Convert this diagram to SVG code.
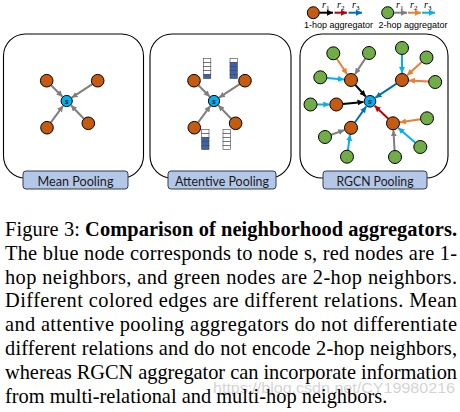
<svg xmlns="http://www.w3.org/2000/svg" width="460" height="412" viewBox="0 0 460 412">
<style>
.panel{fill:none;stroke:#000;stroke-width:1.1}
.lbl{fill:#b4c7e7;stroke:#2f3b52;stroke-width:1}
.lt{font-family:Lato,"Open Sans",sans-serif;font-size:14px;fill:#1a1a1a;text-anchor:middle}
.on{fill:#c55a11;stroke:#000;stroke-width:1}
.gn{fill:#70ad47;stroke:#000;stroke-width:1}
.sn{fill:#00b0f0;stroke:#000;stroke-width:1}
.st{font-family:"Liberation Sans",sans-serif;font-size:7px;font-style:italic;font-weight:bold;fill:#1a1a1a;text-anchor:middle}
.e{fill:none;stroke-width:2}
.gray{stroke:#7f7f7f}.blk{stroke:#000}.red{stroke:#c00000}.dbl{stroke:#0070c0}.cy{stroke:#00b0f0}.org{stroke:#ed7d31}
.cell{stroke:#404040;stroke-width:0.6}
.w{fill:#fff}.b{fill:#3b64ad}
.cap{font-family:"Liberation Serif","Times New Roman",serif;font-size:20.4px;fill:#000}
.leg{font-family:"Liberation Sans",Arial,sans-serif;font-size:9px;fill:#000}
.r{font-family:"Liberation Serif",serif;font-size:10px;font-style:italic;fill:#000}
</style>
<defs>
<marker id="m-gray" viewBox="0 0 6 6" refX="6" refY="3" markerWidth="3" markerHeight="3" orient="auto"><path d="M0,0L6,3L0,6z" fill="#7f7f7f"/></marker>
<marker id="m-blk" viewBox="0 0 6 6" refX="6" refY="3" markerWidth="3" markerHeight="3" orient="auto"><path d="M0,0L6,3L0,6z" fill="#000"/></marker>
<marker id="m-red" viewBox="0 0 6 6" refX="6" refY="3" markerWidth="3" markerHeight="3" orient="auto"><path d="M0,0L6,3L0,6z" fill="#c00000"/></marker>
<marker id="m-dbl" viewBox="0 0 6 6" refX="6" refY="3" markerWidth="3" markerHeight="3" orient="auto"><path d="M0,0L6,3L0,6z" fill="#0070c0"/></marker>
<marker id="m-cy" viewBox="0 0 6 6" refX="6" refY="3" markerWidth="3" markerHeight="3" orient="auto"><path d="M0,0L6,3L0,6z" fill="#00b0f0"/></marker>
<marker id="m-org" viewBox="0 0 6 6" refX="6" refY="3" markerWidth="3" markerHeight="3" orient="auto"><path d="M0,0L6,3L0,6z" fill="#ed7d31"/></marker>
</defs>
<rect width="460" height="412" fill="#fff"/>

<!-- legend -->
<g id="legend">
<circle class="on" cx="313.3" cy="12.7" r="6"/>
<line class="e blk" x1="319.5" y1="12.7" x2="333" y2="12.7" marker-end="url(#m-blk)"/>
<line class="e red" x1="334.5" y1="12.7" x2="347" y2="12.7" marker-end="url(#m-red)"/>
<line class="e dbl" x1="348.5" y1="12.7" x2="362" y2="12.7" marker-end="url(#m-dbl)"/>
<text class="r" x="322" y="8">r<tspan font-size="7" font-style="normal" dy="2">1</tspan></text>
<text class="r" x="337" y="8">r<tspan font-size="7" font-style="normal" dy="2">2</tspan></text>
<text class="r" x="352" y="8">r<tspan font-size="7" font-style="normal" dy="2">3</tspan></text>
<text class="leg" x="304" y="28">1-hop aggregator</text>
<circle class="gn" cx="387.7" cy="12.7" r="6"/>
<line class="e gray" x1="394" y1="12.7" x2="407" y2="12.7" marker-end="url(#m-gray)"/>
<line class="e org" x1="408" y1="12.7" x2="421" y2="12.7" marker-end="url(#m-org)"/>
<line class="e cy" x1="422" y1="12.7" x2="435" y2="12.7" marker-end="url(#m-cy)"/>
<text class="r" x="396" y="8">r<tspan font-size="7" font-style="normal" dy="2">1</tspan></text>
<text class="r" x="410" y="8">r<tspan font-size="7" font-style="normal" dy="2">2</tspan></text>
<text class="r" x="424" y="8">r<tspan font-size="7" font-style="normal" dy="2">3</tspan></text>
<text class="leg" x="378.5" y="28">2-hop aggregator</text>
</g>

<!-- panel frames -->
<g id="panel-mean">
<rect class="panel" x="3.5" y="34" width="140" height="144" rx="22"/>
<rect class="lbl" x="23" y="171" width="105" height="18" rx="3"/>
<text class="lt" x="75.5" y="186" textLength="76" lengthAdjust="spacingAndGlyphs">Mean Pooling</text>
</g>
<g id="panel-attentive">
<rect class="panel" x="150" y="34" width="141" height="144" rx="22"/>
<rect class="lbl" x="168" y="171" width="108" height="18" rx="3"/>
<text class="lt" x="222" y="186" textLength="94" lengthAdjust="spacingAndGlyphs">Attentive Pooling</text>
</g>
<g id="panel-rgcn">
<rect class="panel" x="300" y="34" width="148" height="144" rx="22"/>
<rect class="lbl" x="323" y="171" width="104" height="18" rx="3"/>
<text class="lt" x="375" y="186" textLength="77" lengthAdjust="spacingAndGlyphs">RGCN Pooling</text>
</g>

<!-- connectors -->
<g id="connectors">
<line class="e gray" x1="51.1" y1="85.2" x2="62.5" y2="96.7" marker-end="url(#m-gray)"/>
<line class="e gray" x1="92.4" y1="84.2" x2="71.7" y2="97.7" marker-end="url(#m-gray)"/>
<line class="e gray" x1="50.7" y1="122.6" x2="63.1" y2="105.8" marker-end="url(#m-gray)"/>
<line class="e gray" x1="83.9" y1="118.8" x2="70.9" y2="105.3" marker-end="url(#m-gray)"/>

<line class="e gray" x1="198.4" y1="85.2" x2="209.8" y2="96.7" marker-end="url(#m-gray)"/>
<line class="e gray" x1="239.7" y1="84.2" x2="219" y2="97.7" marker-end="url(#m-gray)"/>
<line class="e gray" x1="198" y1="122.6" x2="210.4" y2="105.8" marker-end="url(#m-gray)"/>
<line class="e gray" x1="231.2" y1="118.8" x2="218.2" y2="105.3" marker-end="url(#m-gray)"/>

<line class="e blk" x1="355.3" y1="84.8" x2="365.7" y2="96.5" marker-end="url(#m-blk)"/>
<line class="e blk" x1="342.8" y1="103.9" x2="363.5" y2="101.9" marker-end="url(#m-blk)"/>
<line class="e dbl" x1="396.6" y1="83.6" x2="375.4" y2="97.7" marker-end="url(#m-dbl)"/>
<line class="e dbl" x1="354.8" y1="122.5" x2="366.2" y2="106.6" marker-end="url(#m-dbl)"/>
<line class="e red" x1="388.3" y1="118.8" x2="374.7" y2="105.8" marker-end="url(#m-red)"/>

<line class="e org" x1="336.9" y1="58.7" x2="347.1" y2="74.2" marker-end="url(#m-org)"/>
<line class="e gray" x1="365.4" y1="58.4" x2="354.9" y2="74.2" marker-end="url(#m-gray)"/>
<line class="e cy" x1="326.8" y1="77.9" x2="344" y2="79.4" marker-end="url(#m-cy)"/>
<line class="e cy" x1="402" y1="54.5" x2="402" y2="73" marker-end="url(#m-cy)"/>
<line class="e org" x1="421.7" y1="61.9" x2="407.2" y2="75.3" marker-end="url(#m-org)"/>
<line class="e org" x1="428.7" y1="81.6" x2="409" y2="80.4" marker-end="url(#m-org)"/>
<line class="e cy" x1="317" y1="104.5" x2="329.3" y2="104.5" marker-end="url(#m-cy)"/>
<line class="e org" x1="420.6" y1="119.2" x2="399.9" y2="122.3" marker-end="url(#m-org)"/>
<line class="e cy" x1="415.4" y1="142.7" x2="398.3" y2="127.9" marker-end="url(#m-cy)"/>
<line class="e gray" x1="394.6" y1="150.5" x2="393.4" y2="130.3" marker-end="url(#m-gray)"/>
<line class="e gray" x1="331.1" y1="134.8" x2="344.4" y2="130.1" marker-end="url(#m-gray)"/>
<line class="e cy" x1="347.9" y1="150.3" x2="350" y2="134.7" marker-end="url(#m-cy)"/>
</g>

<!-- panel 1 nodes -->
<g id="p1-s"><circle class="sn" cx="66.7" cy="101" r="5.6"/><text class="st" x="66.7" y="103.5">s</text></g>
<g id="p1-n1"><circle class="on" cx="46.7" cy="80.7" r="6.3"/></g>
<g id="p1-n2"><circle class="on" cx="97.7" cy="80.7" r="6.3"/></g>
<g id="p1-n3"><circle class="on" cx="47" cy="127.7" r="6.3"/></g>
<g id="p1-n4"><circle class="on" cx="88.3" cy="123.3" r="6.3"/></g>

<!-- panel 2 nodes -->
<g id="p2-s"><circle class="sn" cx="214" cy="101" r="5.6"/><text class="st" x="214" y="103.5">s</text></g>
<g id="p2-n1"><circle class="on" cx="194" cy="80.7" r="6.3"/></g>
<g id="p2-n2"><circle class="on" cx="245" cy="80.7" r="6.3"/></g>
<g id="p2-n3"><circle class="on" cx="194.3" cy="127.7" r="6.3"/></g>
<g id="p2-n4"><circle class="on" cx="235.6" cy="123.3" r="6.3"/></g>
<g id="p2-att1">
<rect class="cell w" x="203.5" y="58.5" width="7.3" height="4"/><rect class="cell w" x="203.5" y="62.5" width="7.3" height="4"/><rect class="cell w" x="203.5" y="66.5" width="7.3" height="4"/><rect class="cell w" x="203.5" y="70.5" width="7.3" height="4"/><rect class="cell b" x="203.5" y="74.5" width="7.3" height="4"/>
</g>
<g id="p2-att2">
<rect class="cell w" x="230" y="58.5" width="7.3" height="4"/><rect class="cell b" x="230" y="62.5" width="7.3" height="4"/><rect class="cell b" x="230" y="66.5" width="7.3" height="4"/><rect class="cell b" x="230" y="70.5" width="7.3" height="4"/><rect class="cell b" x="230" y="74.5" width="7.3" height="4"/>
</g>
<g id="p2-att3">
<rect class="cell w" x="201.7" y="129.5" width="7.3" height="4"/><rect class="cell w" x="201.7" y="133.5" width="7.3" height="4"/><rect class="cell b" x="201.7" y="137.5" width="7.3" height="4"/><rect class="cell b" x="201.7" y="141.5" width="7.3" height="4"/><rect class="cell b" x="201.7" y="145.5" width="7.3" height="4"/>
</g>
<g id="p2-att4">
<rect class="cell w" x="223" y="129.5" width="7.3" height="4"/><rect class="cell w" x="223" y="133.5" width="7.3" height="4"/><rect class="cell w" x="223" y="137.5" width="7.3" height="4"/><rect class="cell w" x="223" y="141.5" width="7.3" height="4"/><rect class="cell w" x="223" y="145.5" width="7.3" height="4"/>
</g>

<!-- panel 3 nodes -->
<g id="p3-s"><circle class="sn" cx="370" cy="101.3" r="5.8"/><text class="st" x="370" y="103.8">s</text></g>
<g id="p3-A"><circle class="on" cx="351" cy="80" r="6.5"/></g>
<g id="p3-B"><circle class="on" cx="402" cy="80" r="6.5"/></g>
<g id="p3-C"><circle class="on" cx="336.3" cy="104.5" r="6.5"/></g>
<g id="p3-D"><circle class="on" cx="393" cy="123.3" r="6.5"/></g>
<g id="p3-E"><circle class="on" cx="351" cy="127.8" r="6.5"/></g>
<g id="p3-gA1"><circle class="gn" cx="333.3" cy="53.3" r="6.5"/></g>
<g id="p3-gA2"><circle class="gn" cx="369" cy="53" r="6.5"/></g>
<g id="p3-gA3"><circle class="gn" cx="320.3" cy="77.3" r="6.5"/></g>
<g id="p3-gB1"><circle class="gn" cx="402" cy="48" r="6.5"/></g>
<g id="p3-gB2"><circle class="gn" cx="426.5" cy="57.5" r="6.5"/></g>
<g id="p3-gB3"><circle class="gn" cx="435.2" cy="82" r="6.5"/></g>
<g id="p3-gC1"><circle class="gn" cx="310.5" cy="104.5" r="6.5"/></g>
<g id="p3-gD1"><circle class="gn" cx="427" cy="118.3" r="6.5"/></g>
<g id="p3-gD2"><circle class="gn" cx="420.3" cy="147" r="6.5"/></g>
<g id="p3-gD3"><circle class="gn" cx="395" cy="157" r="6.5"/></g>
<g id="p3-gE1"><circle class="gn" cx="325" cy="137" r="6.5"/></g>
<g id="p3-gE2"><circle class="gn" cx="347" cy="156.7" r="6.5"/></g>

<!-- caption -->
<text x="213" y="393" font-family="Liberation Sans,Arial,sans-serif" font-size="14" fill="#d4d4d4" textLength="242" lengthAdjust="spacingAndGlyphs">https://blog.csdn.net/CY19980216</text>
<g id="caption" class="cap">
<text x="5" y="236" textLength="452" lengthAdjust="spacing">Figure 3: <tspan font-weight="bold">Comparison of neighborhood aggregators.</tspan></text>
<text x="5" y="259.8" textLength="452" lengthAdjust="spacing">The blue node corresponds to node s, red nodes are 1-</text>
<text x="5" y="283.6" textLength="452" lengthAdjust="spacing">hop neighbors, and green nodes are 2-hop neighbors.</text>
<text x="5" y="307.4" textLength="452" lengthAdjust="spacing">Different colored edges are different relations.  Mean</text>
<text x="5" y="331.2" textLength="452" lengthAdjust="spacing">and attentive pooling aggregators do not differentiate</text>
<text x="5" y="355" textLength="452" lengthAdjust="spacing">different relations and do not encode 2-hop neighbors,</text>
<text x="5" y="378.8" textLength="452" lengthAdjust="spacing">whereas RGCN aggregator can incorporate information</text>
<text x="5" y="402.6">from multi-relational and multi-hop neighbors.</text>
</g>
</svg>
